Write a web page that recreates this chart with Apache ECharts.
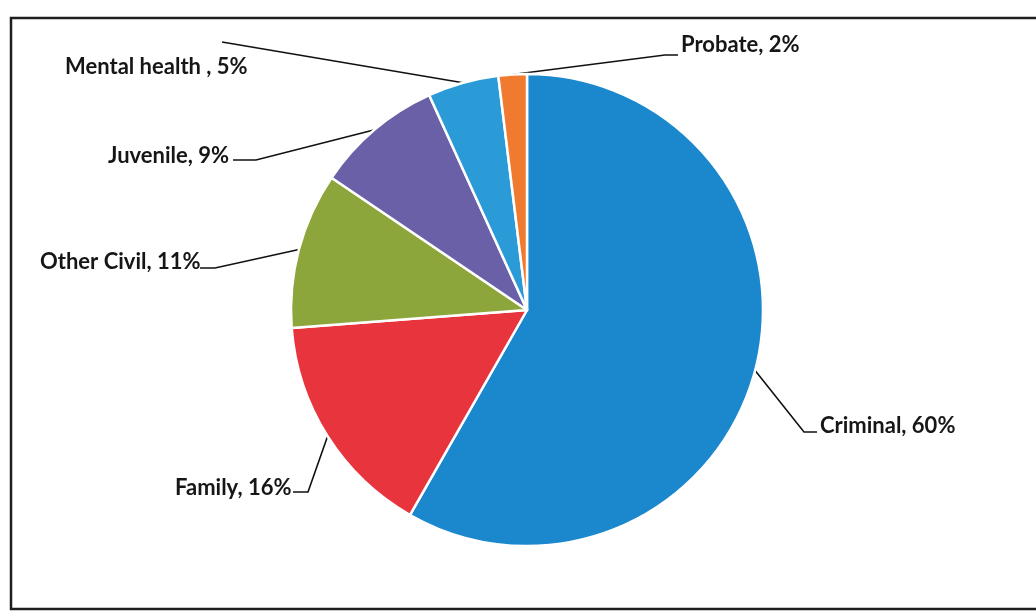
<!DOCTYPE html>
<html>
<head>
<meta charset="utf-8">
<script src="https://cdn.jsdelivr.net/npm/echarts@6/dist/echarts.min.js"></script>
<style>
html,body{margin:0;padding:0;background:#fff;}
#chart{width:1036px;height:615px;}
</style>
</head>
<body>
<div id="chart"></div>
<script>
// ---- data ----
const categories = ['Criminal', 'Family', 'Other Civil', 'Juvenile', 'Mental health ', 'Probate'];
const values = [60, 16, 11, 9, 5, 2];
const colors = ['#1b87cd', '#e8343d', '#8da63b', '#6a60a8', '#2a9bd7', '#f07a30'];

// ---- label placement (layout only) ----
// label anchor [x, y] (left edge, vertical middle), and extra leader points after edge point
const labelAnchor = [
  [820, 426],
  [175, 488],
  [40, 262],
  [108, 156],
  [65, 67],
  [681, 45]
];
const leaderPoints = [
  [[804, 432], [817, 432]],
  [[308, 492], [293, 492]],
  [[215, 268], [200, 268]],
  [[256, 160], [233, 160]],
  [[222, 42]],
  [[665, 55], [678, 55]]
];

const chart = echarts.init(document.getElementById('chart'));
chart.setOption({
  animation: false,
  backgroundColor: '#ffffff',
  graphic: [{
    type: 'rect',
    shape: { x: 11, y: 18, width: 1040, height: 591 },
    style: { fill: 'none', stroke: '#1e1e1e', lineWidth: 2.5 },
    z: 0
  }],
  series: [{
    type: 'pie',
    center: [527, 310],
    radius: 236,
    startAngle: 90,
    clockwise: true,
    avoidLabelOverlap: false,
    itemStyle: { borderColor: '#ffffff', borderWidth: 2.5 },
    label: {
      show: true,
      position: 'outside',
      formatter: p => p.name + ', ' + p.value + '%',
      fontFamily: 'Lato',
      fontWeight: 'bold',
      fontSize: 22,
      color: '#161616'
    },
    labelLine: {
      show: true,
      length: 10,
      length2: 10,
      smooth: false,
      lineStyle: { color: '#111111', width: 1.6 }
    },
    labelLayout: function (params) {
      const i = params.dataIndex;
      const a = labelAnchor[i];
      const edge = params.labelLinePoints ? params.labelLinePoints[0] : [a[0], a[1]];
      return {
        x: a[0],
        y: a[1],
        align: 'left',
        verticalAlign: 'middle',
        labelLinePoints: [edge].concat(leaderPoints[i])
      };
    },
    data: categories.map((c, i) => ({
      name: c,
      value: values[i],
      itemStyle: { color: colors[i] }
    }))
  }]
});
</script>
</body>
</html>
